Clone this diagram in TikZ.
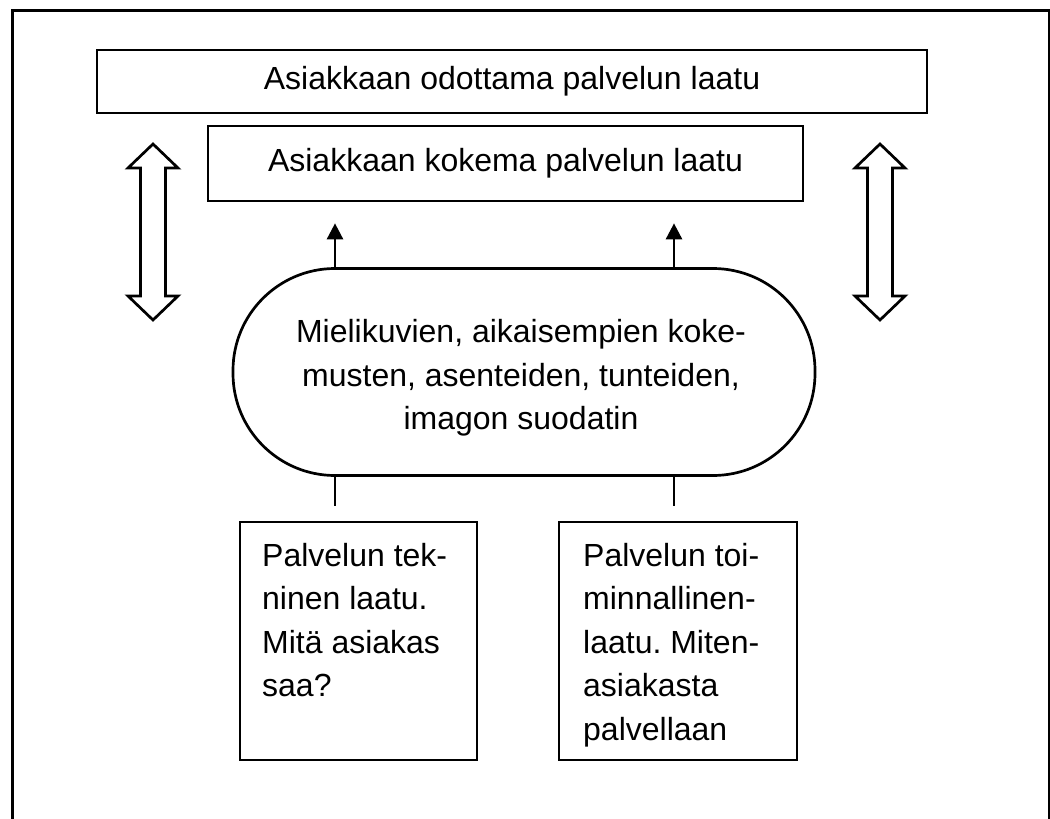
\documentclass[tikz,border=0pt]{standalone}
\usepackage{fontspec}
\setmainfont{Liberation Sans}
\usetikzlibrary{arrows.meta}
\frenchspacing
\begin{document}
\begin{tikzpicture}[x=1pt,y=-1pt,
  box/.style={draw, line width=2.7pt, inner sep=0pt},
  lbl/.style={font=\fontsize{32}{43.5}\selectfont, inner sep=0pt},
  conn/.style={line width=2.7pt},
  uparr/.style={conn, -{Triangle[width=16pt,length=16pt]}},
  dblarr/.style={line width=2.7pt, line join=miter}]
\useasboundingbox (0,0) rectangle (1050,819);
% outer frame (open at bottom)
\draw[line width=3pt] (12,819) -- (12,10) -- (1049.5,10) -- (1049.5,819);
% boxes
\node[box, lbl, minimum width=830pt, minimum height=63pt] (odottama) at (512,81.5) {Asiakkaan odottama palvelun laatu};
\node[box, lbl, minimum width=595pt, minimum height=75pt] (kokema) at (505.5,163.5) {Asiakkaan kokema palvelun laatu};
\node[box, rounded corners=102pt, minimum width=582pt, minimum height=207pt] (filter) at (524,372) {};
\node[lbl, align=center] (filtertext) at (521,378) {Mielikuvien, aikaisempien koke-\\musten, asenteiden, tunteiden,\\imagon suodatin};
\node[box, minimum width=237pt, minimum height=238pt] (tek) at (358.5,641) {};
\node[box, minimum width=238pt, minimum height=238pt] (toim) at (678,641) {};
\node[lbl, align=left, anchor=north west] (tektext) at (262,543) {Palvelun tek-\\ninen laatu.\\Mitä asiakas\\saa?};
\node[lbl, align=left, anchor=north west] (toimtext) at (583,543) {Palvelun toi-\\minnallinen-\\laatu. Miten-\\asiakasta\\palvellaan};
% connectors
\coordinate (c1) at (335,0);
\coordinate (c2) at (674,0);
\draw[uparr, shorten >=21pt] (filter.north -| c1) -- (kokema.south -| c1);
\draw[uparr, shorten >=21pt] (filter.north -| c2) -- (kokema.south -| c2);
\draw[conn, shorten >=15pt] (filter.south -| c1) -- (tek.north -| c1);
\draw[conn, shorten >=15pt] (filter.south -| c2) -- (toim.north -| c2);
% hollow double arrows
\draw[dblarr] (153,144) -- (178,168) -- (165.5,168) -- (165.5,296) -- (178,296) -- (153,320) -- (128,296) -- (140.5,296) -- (140.5,168) -- (128,168) -- cycle;
\draw[dblarr] (880,144) -- (905,168) -- (892.5,168) -- (892.5,296) -- (905,296) -- (880,320) -- (855,296) -- (867.5,296) -- (867.5,168) -- (855,168) -- cycle;
\end{tikzpicture}
\end{document}
